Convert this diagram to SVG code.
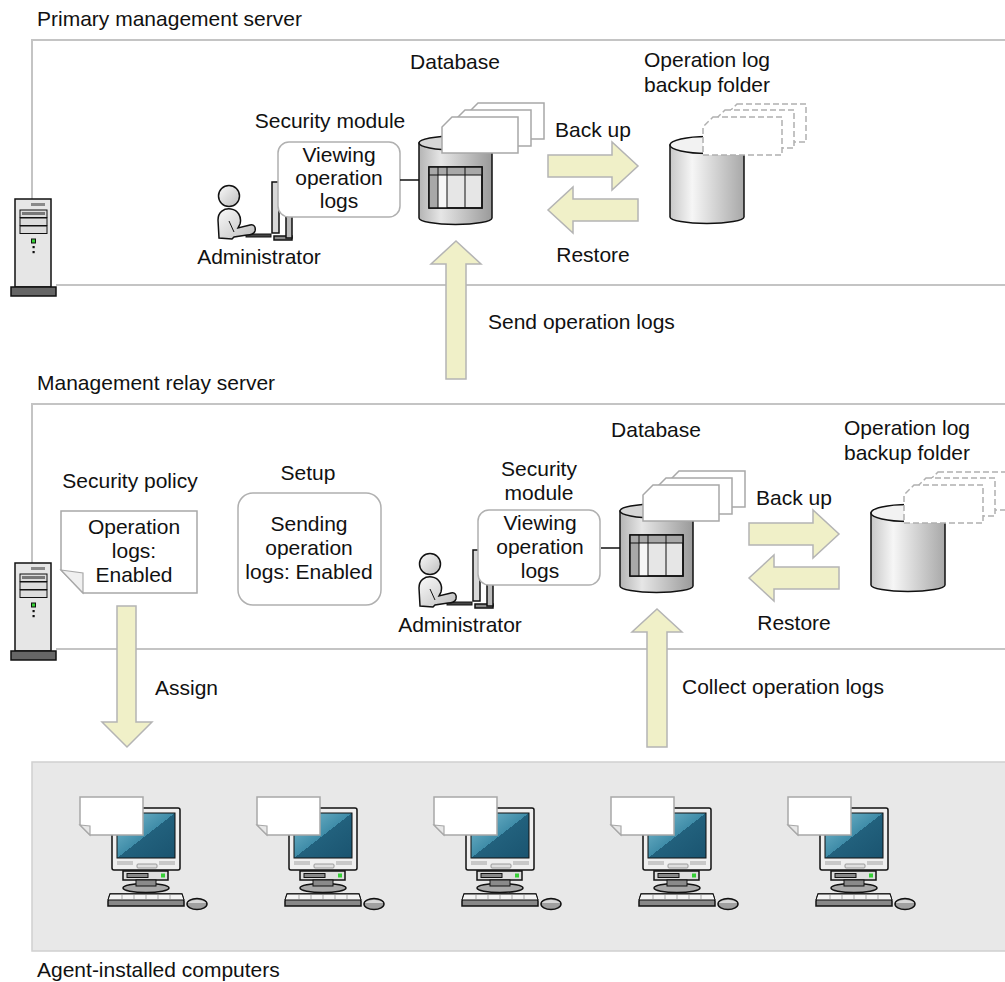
<svg xmlns="http://www.w3.org/2000/svg" xmlns:xlink="http://www.w3.org/1999/xlink" width="1005" height="982" viewBox="0 0 1005 982">
  <style>
    text { font-family: "Liberation Sans", Arial, sans-serif; font-size: 21px; fill: #111; }
    .c { text-anchor: middle; }
    .region { fill: none; stroke: #c4c4c4; stroke-width: 2; }
    .arrow { fill: #f0f0c8; stroke: #b4b4b4; stroke-width: 1.5; }
    .box { fill: #fff; stroke: #b0b0b0; stroke-width: 1.5; }
    .doc { fill: #fff; stroke: #a8a8a8; stroke-width: 1.5; }
    .ddoc { fill: #fff; stroke: #b0b0b0; stroke-width: 1.5; stroke-dasharray: 6 3; }
    .ink { stroke: #111; stroke-width: 1.5; }
    .thin { stroke: #111; stroke-width: 1; }
  </style>
  <defs>
    <linearGradient id="cylDb" x1="0" y1="0" x2="1" y2="0">
      <stop offset="0" stop-color="#b4b4b4"/>
      <stop offset="0.3" stop-color="#e6e6e6"/>
      <stop offset="1" stop-color="#9a9a9a"/>
    </linearGradient>
    <linearGradient id="cylBk" x1="0" y1="0" x2="1" y2="0">
      <stop offset="0" stop-color="#c8c8c8"/>
      <stop offset="0.3" stop-color="#f6f6f6"/>
      <stop offset="1" stop-color="#a8a8a8"/>
    </linearGradient>
    <linearGradient id="person" x1="0" y1="0" x2="1" y2="1">
      <stop offset="0" stop-color="#fafafa"/>
      <stop offset="1" stop-color="#bdbdbd"/>
    </linearGradient>
    <linearGradient id="screen" x1="0" y1="0" x2="1" y2="1">
      <stop offset="0" stop-color="#7dbdd0"/>
      <stop offset="0.5" stop-color="#3f8ca8"/>
      <stop offset="0.5" stop-color="#22617d"/>
      <stop offset="1" stop-color="#1a5470"/>
    </linearGradient>

    <!-- tower server -->
    <g id="server">
      <rect x="15" y="199" width="36" height="88" fill="#e6e6e6" class="ink"/>
      <rect x="31" y="203" width="14" height="3" fill="#8a8a8a"/>
      <rect x="20" y="210" width="27" height="7.5" fill="#dcdcdc" class="thin"/>
      <rect x="22" y="212" width="23" height="3" fill="#777"/>
      <rect x="20" y="218" width="27" height="7.5" fill="#dcdcdc" class="thin"/>
      <rect x="20" y="226" width="27" height="7.5" fill="#dcdcdc" class="thin"/>
      <rect x="31.5" y="239" width="4" height="4" fill="#35d035" class="thin"/>
      <rect x="32.5" y="246" width="2.2" height="2.2" fill="#111"/>
      <rect x="32.5" y="251" width="2.2" height="2.2" fill="#111"/>
      <rect x="11" y="287" width="45" height="9" fill="#666" class="ink"/>
    </g>

    <!-- administrator at a desk -->
    <g id="admin">
      <path d="M272,182 L279,182 L279,233 L272,233 Z" fill="#d8d8d8" class="ink"/>
      <path d="M274,236 L292,236 L292,240 L274,240 Z" fill="#888" class="ink"/>
      <path d="M286,216 L292,216 L292,238 L286,238 Z" fill="#bbb" class="ink"/>
      <rect x="246" y="234" width="25" height="3" fill="#444" class="thin"/>
      <circle cx="229" cy="196" r="10.5" fill="url(#person)" class="ink"/>
      <path d="M219,238 L218,220 C218,212 224,208 231,209 C238,210 242,217 240,224 L238,228 L250,225 C254,224 256,227 255,231 C254,234 251,235 247,235 L234,237 L232,239 Z" fill="url(#person)" class="ink"/>
      <path d="M229,221 L234,232" fill="none" class="thin"/>
    </g>

    <!-- database with stacked log sheets and backup folder -->
    <g id="dbset">
      <line x1="400" y1="180" x2="419" y2="180" class="ink"/>
      <!-- database cylinder -->
      <path d="M419,143 L419,218 A36.5,6.5 0 0 0 492,218 L492,143 Z" fill="url(#cylDb)" class="ink"/>
      <ellipse cx="455.5" cy="143" rx="36.5" ry="7" fill="#d6d6d6" class="ink"/>
      <rect x="429" y="167" width="53" height="41" fill="#e6e6e6" class="ink"/>
      <rect x="429" y="167" width="53" height="8" fill="#a8a8a8"/>
      <rect x="429" y="167" width="9" height="41" fill="#a8a8a8"/>
      <rect x="438" y="175" width="9" height="33" fill="#f6f6f6"/>
      <path d="M429,175 H482 M438,167 V208 M447,167 V208 M465,167 V208" fill="none" class="thin"/>
      <rect x="429" y="167" width="53" height="41" fill="none" class="ink"/>
      <!-- log sheets -->
      <path d="M478,103 H544 V139 H468 V113 Z" class="doc"/>
      <path d="M465,110 H531 V146 H455 V120 Z" class="doc"/>
      <path d="M452,117 H518 V153 H442 V127 Z" class="doc"/>
      <!-- backup folder cylinder -->
      <path d="M670,145 L670,217 A37,6.5 0 0 0 744,217 L744,145 Z" fill="url(#cylBk)" class="ink"/>
      <ellipse cx="707" cy="145" rx="37" ry="8.5" fill="#f2f2f2" class="ink"/>
      <!-- backed-up sheets -->
      <path d="M737,104 H806 V142 H727 V114 Z" class="ddoc"/>
      <path d="M725,110 H794 V148 H715 V120 Z" class="ddoc"/>
      <path d="M713,117 H782 V155 H703 V127 Z" class="ddoc"/>
      <!-- back up / restore arrows -->
      <polygon points="548,155 612,155 612,142 638,166 612,190 612,177 548,177" class="arrow"/>
      <polygon points="638,199 573,199 573,187 548,210 573,233 573,221 638,221" class="arrow"/>
    </g>

    <!-- managed client computer -->
    <g id="pc">
      <rect x="112" y="808" width="68" height="62" rx="2" fill="#efefef" class="ink"/>
      <rect x="117" y="813" width="58" height="45" fill="url(#screen)" class="thin"/>
      <rect x="117" y="861" width="16" height="4" fill="#c8c8c8"/>
      <rect x="159" y="861" width="16" height="4" fill="#c8c8c8"/>
      <rect x="137" y="864" width="20" height="4" rx="1" fill="#e0e0e0" stroke="#888" stroke-width="0.8"/>
      <rect x="123" y="871" width="45" height="9" fill="#dedede" class="ink"/>
      <rect x="127" y="873.5" width="21" height="4" fill="#888" class="thin"/>
      <rect x="161" y="873.5" width="4" height="4" fill="#35d035"/>
      <ellipse cx="146" cy="888" rx="23" ry="4.5" fill="#a8a8a8" class="ink"/>
      <rect x="136" y="880" width="20" height="6" fill="#8a8a8a" class="thin"/>
      <path d="M108,901 L110,894 H182 L184,901 V906 H108 Z" fill="#888" class="ink"/>
      <path d="M110,894 H182 L184,900 H108 Z" fill="#f4f4f4" class="thin"/>
      <path d="M122,895 V899 M134,895 V899 M146,895 V899 M158,895 V899 M170,895 V899" stroke="#aaa" stroke-width="1"/>
      <ellipse cx="197" cy="904" rx="10" ry="5.5" fill="#a0a0a0" class="ink"/>
      <path d="M188,903 C190,899 204,899 206,903" fill="#d8d8d8" stroke="none"/>
      <path d="M90,797 H143 V835 H90 L80,825 V797 Z" class="doc"/>
      <path d="M80,825 L90,826 L90,835 Z" fill="#e8e8e8" stroke="#a8a8a8" stroke-width="1.2"/>
    </g>
  </defs>

  <!-- region outlines -->
  <g id="regions">
    <path d="M1005,40 H32 V199 M56,285 H1005" class="region"/>
    <path d="M1005,404 H32 V563 M56,649 H1005" class="region"/>
    <rect id="agents-area" x="32" y="762" width="980" height="189" fill="#e8e8e8" stroke="#d0d0d0" stroke-width="1.5"/>
  </g>

  <!-- connectors -->
  <g id="connectors">
    <polygon points="456,241 481,264 466,264 466,379 446,379 446,264 431,264" class="arrow"/>
    <polygon points="657,609 682,632 667,632 667,747 647,747 647,632 632,632" class="arrow"/>
    <polygon points="117,606 136,606 136,722 152,722 127,747 102,722 117,722" class="arrow"/>
  </g>

  <!-- primary management server -->
  <g id="primary-server">
    <text x="37" y="26">Primary management server</text>
    <use xlink:href="#server"/>
  </g>
  <g id="primary-admin">
    <use xlink:href="#admin"/>
    <text class="c" x="259" y="264">Administrator</text>
  </g>
  <g id="primary-security-module">
    <text class="c" x="330" y="128">Security module</text>
    <rect x="278" y="142" width="122" height="75" rx="11" class="box"/>
    <text class="c" x="339" y="162">Viewing</text>
    <text class="c" x="339" y="185">operation</text>
    <text class="c" x="339" y="208">logs</text>
  </g>
  <g id="primary-database">
    <use xlink:href="#dbset"/>
    <text class="c" x="455" y="69">Database</text>
    <text class="c" x="707" y="67">Operation log</text>
    <text class="c" x="707" y="92">backup folder</text>
    <text class="c" x="593" y="137">Back up</text>
    <text class="c" x="593" y="262">Restore</text>
  </g>
  <g id="send-label">
    <text x="488" y="329">Send operation logs</text>
  </g>

  <!-- management relay server -->
  <g id="relay-server">
    <text x="37" y="390">Management relay server</text>
    <use xlink:href="#server" y="364"/>
  </g>
  <g id="security-policy">
    <text class="c" x="130" y="488">Security policy</text>
    <path d="M61,511 H197 V593 H83 L61,570 Z" class="doc"/>
    <path d="M61,570 L83,573 L83,593 Z" fill="#f0f0f0" stroke="#a8a8a8" stroke-width="1.2"/>
    <text class="c" x="134" y="534">Operation</text>
    <text class="c" x="134" y="558">logs:</text>
    <text class="c" x="134" y="582">Enabled</text>
  </g>
  <g id="setup">
    <text class="c" x="308" y="480">Setup</text>
    <rect x="238" y="493" width="143" height="112" rx="15" class="box"/>
    <text class="c" x="309" y="531">Sending</text>
    <text class="c" x="309" y="555">operation</text>
    <text class="c" x="309" y="579">logs: Enabled</text>
  </g>
  <g id="relay-admin">
    <use xlink:href="#admin" x="201" y="368"/>
    <text class="c" x="460" y="632">Administrator</text>
  </g>
  <g id="relay-security-module">
    <text class="c" x="539" y="476">Security</text>
    <text class="c" x="539" y="500">module</text>
    <rect x="478" y="510" width="122" height="75" rx="11" class="box"/>
    <text class="c" x="540" y="530">Viewing</text>
    <text class="c" x="540" y="554">operation</text>
    <text class="c" x="540" y="578">logs</text>
  </g>
  <g id="relay-database">
    <use xlink:href="#dbset" x="201" y="368"/>
    <text class="c" x="656" y="437">Database</text>
    <text class="c" x="907" y="435">Operation log</text>
    <text class="c" x="907" y="460">backup folder</text>
    <text class="c" x="794" y="505">Back up</text>
    <text class="c" x="794" y="630">Restore</text>
  </g>
  <g id="relay-labels">
    <text x="155" y="695">Assign</text>
    <text x="682" y="694">Collect operation logs</text>
  </g>

  <!-- agent-installed computers -->
  <g id="agents">
    <use xlink:href="#pc"/>
    <use xlink:href="#pc" x="177"/>
    <use xlink:href="#pc" x="354"/>
    <use xlink:href="#pc" x="531"/>
    <use xlink:href="#pc" x="708"/>
    <text x="37" y="977">Agent-installed computers</text>
  </g>
</svg>
